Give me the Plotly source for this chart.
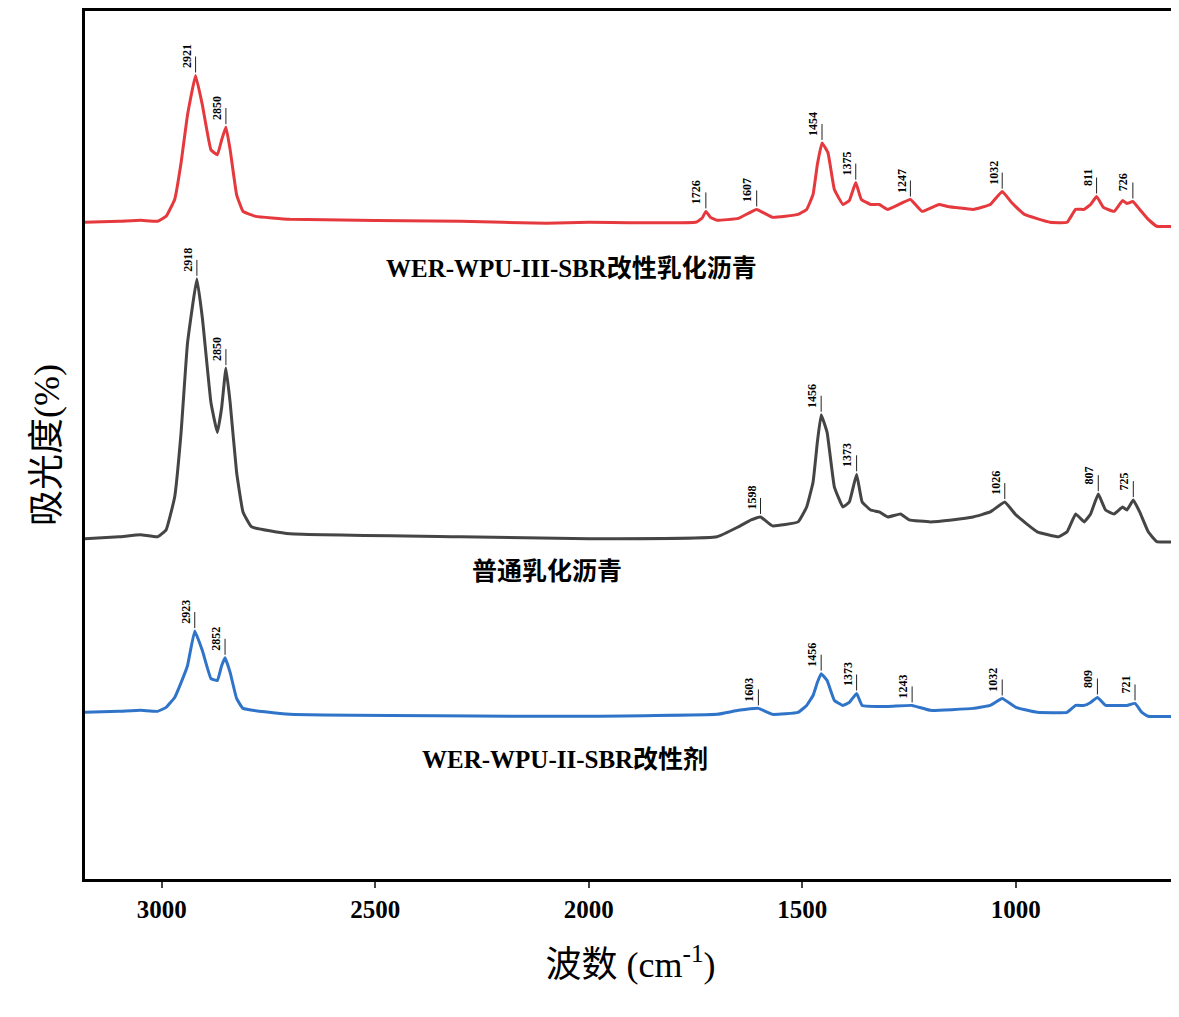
import numpy as np
import plotly.graph_objects as go

# wavenumber (cm-1) and screen-read intensity (plotted on reversed axis)
red_x = [3180, 3100, 3050, 3010, 2990, 2970, 2955, 2940, 2921, 2905, 2885, 2870, 2860, 2850, 2840, 2825, 2810, 2780,
         2700, 2300, 2100, 2000, 1750, 1735, 1726, 1715, 1700, 1650, 1607, 1570, 1510, 1490, 1475, 1465, 1454, 1440,
         1425, 1405, 1390, 1375, 1362, 1340, 1320, 1300, 1247, 1220, 1180, 1160, 1100, 1060, 1032, 1010, 980, 920,
         880, 860, 840, 825, 811, 795, 770, 750, 740, 726, 710, 690, 670, 625]
red_y = [218, 217, 216, 217, 212, 195, 158, 110, 70, 100, 145, 150, 135, 122, 145, 190, 207, 212,
         215, 217, 219, 218, 218, 214, 207, 213, 216, 214, 205, 213, 210, 205, 190, 160, 138, 148,
         185, 200, 196, 178, 195, 200, 200, 205, 195, 207, 200, 202, 205, 200, 187, 198, 210, 218,
         218, 205, 205, 200, 192, 203, 207, 196, 199, 197, 205, 215, 222, 222]

blk_x = [3180, 3100, 3050, 3010, 2990, 2970, 2955, 2940, 2918, 2905, 2885, 2870, 2860, 2850, 2840, 2825, 2810, 2790,
         2700, 2300, 2000, 1700, 1650, 1620, 1598, 1570, 1510, 1490, 1475, 1465, 1456, 1442, 1425, 1405, 1390, 1373,
         1360, 1340, 1320, 1300, 1270, 1250, 1200, 1150, 1100, 1060, 1026, 1000, 950, 900, 880, 860, 840, 825, 807,
         790, 770, 750, 740, 725, 710, 690, 670, 625]
blk_y = [537, 535, 533, 535, 528, 495, 430, 340, 275, 315, 400, 430, 405, 365, 400, 470, 510, 525,
         532, 535, 537, 535, 525, 518, 515, 524, 520, 505, 480, 440, 412, 430, 485, 505, 500, 472,
         500, 508, 510, 515, 512, 518, 520, 518, 515, 510, 500, 513, 530, 535, 530, 512, 520, 512, 492,
         508, 512, 505, 508, 498, 510, 530, 540, 540]

blu_x = [3180, 3100, 3050, 3010, 2990, 2970, 2955, 2940, 2923, 2905, 2885, 2870, 2860, 2852, 2840, 2825, 2810, 2700,
         2000, 1700, 1650, 1603, 1570, 1510, 1490, 1475, 1465, 1456, 1442, 1425, 1405, 1390, 1373, 1360, 1300, 1243,
         1200, 1100, 1060, 1032, 1000, 950, 880, 860, 840, 825, 809, 790, 760, 740, 721, 705, 690, 625]
blu_y = [712, 711, 710, 711, 707, 697, 682, 665, 630, 650, 678, 680, 665, 657, 672, 698, 708, 714,
         716, 714, 710, 708, 714, 712, 705, 695, 682, 673, 680, 700, 705, 702, 693, 705, 706, 705,
         710, 708, 705, 698, 707, 712, 712, 705, 705, 702, 697, 705, 705, 705, 703, 712, 716, 716]

red_peaks = [2921, 2850, 1726, 1607, 1454, 1375, 1247, 1032, 811, 726]
blk_peaks = [2918, 2850, 1598, 1456, 1373, 1026, 807, 725]
blu_peaks = [2923, 2852, 1603, 1456, 1373, 1243, 1032, 809, 721]

names = ["WER-WPU-III-SBR改性乳化沥青", "普通乳化沥青", "WER-WPU-II-SBR改性剂"]
colors = ["#e5393e", "#454545", "#2f74c8"]
series = [(red_x, red_y, red_peaks), (blk_x, blk_y, blk_peaks), (blu_x, blu_y, blu_peaks)]
label_pos = [(2040, 265), (2099, 570), (2057, 760)]

SERIF = "Liberation Serif, Noto Sans CJK SC"
fig = go.Figure()
ann = []
for (xs, ys, peaks), name, c, (lx, ly) in zip(series, names, colors, label_pos):
    fig.add_trace(go.Scatter(x=xs, y=ys, mode="lines", name=name,
                             line=dict(color=c, width=3, shape="spline", smoothing=0.3)))
    xr, yr = np.array(xs[::-1]), np.array(ys[::-1])
    for p in peaks:
        py = float(np.interp(p, xr, yr))
        ann.append(dict(x=p, y=py - 3, xref="x", yref="y", text=f"<b>{p}</b>", textangle=-90,
                        showarrow=True, arrowhead=0, arrowwidth=1, arrowcolor="#222", ax=0, ay=-16,
                        yanchor="bottom", font=dict(family=SERIF, size=12, color="black")))
    ann.append(dict(x=lx, y=ly, xref="x", yref="y", text=f"<b>{name}</b>", showarrow=False,
                    font=dict(family=SERIF, size=25, color="black")))

fig.update_layout(
    width=1179, height=1017, plot_bgcolor="white", paper_bgcolor="white",
    showlegend=False, annotations=ann,
    margin=dict(l=77, r=11, t=0, b=146),
    xaxis=dict(range=[3180, 625], showgrid=False, zeroline=False,
               tickvals=[3000, 2500, 2000, 1500, 1000], ticks="outside", ticklen=6, tickwidth=2,
               tickfont=dict(family=SERIF, size=25, color="black", weight="bold"),
               showline=True, linewidth=3, linecolor="black", mirror=True,
               title=dict(text="波数 (cm<sup>-1</sup>)", standoff=30,
                          font=dict(family=SERIF, size=36, color="black"))),
    yaxis=dict(range=[880, 5], showgrid=False, zeroline=False, showticklabels=False, ticks="",
               showline=True, linewidth=3, linecolor="black", mirror=True,
               title=dict(text="吸光度(%)", standoff=12,
                          font=dict(family=SERIF, size=36, color="black"))),
)
fig.write_html("out.html")
